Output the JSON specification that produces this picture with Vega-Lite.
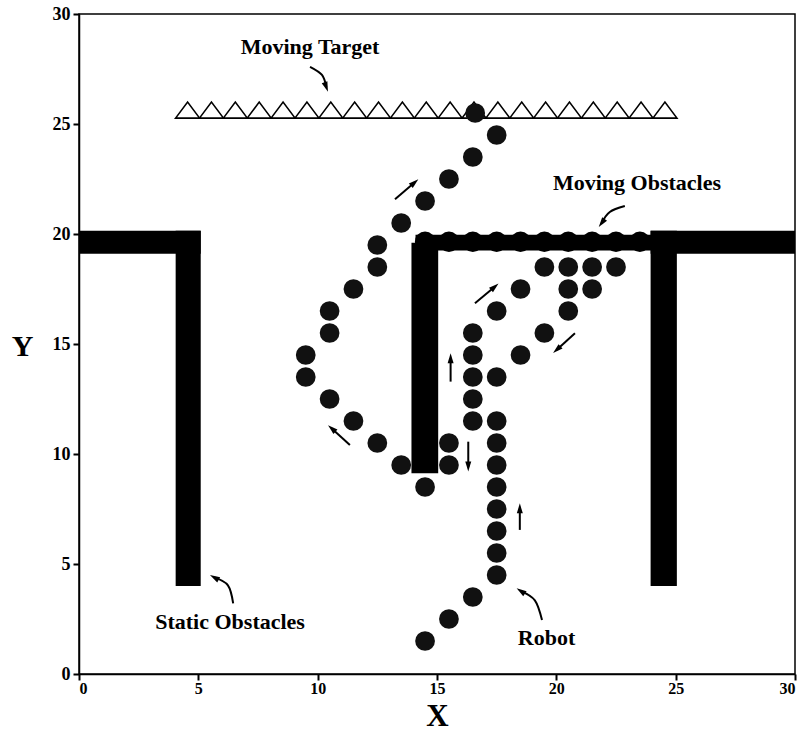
{
  "$schema": "https://vega.github.io/schema/vega-lite/v6.json",
  "width": 716,
  "height": 660,
  "autosize": {"type": "none"},
  "padding": {"left": 79, "top": 14, "right": 13, "bottom": 72},
  "background": "white",
  "config": {
    "view": {"stroke": "black", "strokeWidth": 1.5}
  },
  "datasets": {
    "walls": [
      {"part": "static", "x": 0, "x2": 5.1, "y": 19.1, "y2": 20.15},
      {"part": "static", "x": 4.05, "x2": 5.1, "y": 4.0, "y2": 20.15},
      {"part": "static", "x": 23.95, "x2": 30, "y": 19.1, "y2": 20.15},
      {"part": "static", "x": 23.95, "x2": 25.05, "y": 4.0, "y2": 20.15},
      {"part": "static", "x": 13.93, "x2": 15.05, "y": 9.12, "y2": 19.6},
      {"part": "moving", "x": 14.1, "x2": 24.0, "y": 19.25, "y2": 19.97}
    ],
    "movers": [
      {"x": 14.5, "y": 19.65}, {"x": 15.5, "y": 19.65}, {"x": 16.5, "y": 19.65},
      {"x": 17.5, "y": 19.65}, {"x": 18.5, "y": 19.65}, {"x": 19.5, "y": 19.65},
      {"x": 20.5, "y": 19.65}, {"x": 21.5, "y": 19.65}, {"x": 22.5, "y": 19.65},
      {"x": 23.5, "y": 19.65}
    ],
    "target": [
      {"x": 4.55, "y": 25.63}, {"x": 5.55, "y": 25.63}, {"x": 6.55, "y": 25.63},
      {"x": 7.55, "y": 25.63}, {"x": 8.55, "y": 25.63}, {"x": 9.55, "y": 25.63},
      {"x": 10.55, "y": 25.63}, {"x": 11.55, "y": 25.63}, {"x": 12.55, "y": 25.63},
      {"x": 13.55, "y": 25.63}, {"x": 14.55, "y": 25.63}, {"x": 15.55, "y": 25.63},
      {"x": 16.55, "y": 25.63}, {"x": 17.55, "y": 25.63}, {"x": 18.55, "y": 25.63},
      {"x": 19.55, "y": 25.63}, {"x": 20.55, "y": 25.63}, {"x": 21.55, "y": 25.63},
      {"x": 22.55, "y": 25.63}, {"x": 23.55, "y": 25.63}, {"x": 24.55, "y": 25.63}
    ],
    "robot": [
      {"x": 14.5, "y": 1.5}, {"x": 15.5, "y": 2.5}, {"x": 16.5, "y": 3.5},
      {"x": 17.5, "y": 4.5}, {"x": 17.5, "y": 5.5}, {"x": 17.5, "y": 6.5},
      {"x": 17.5, "y": 7.5}, {"x": 17.5, "y": 8.5}, {"x": 17.5, "y": 9.5},
      {"x": 17.5, "y": 10.5}, {"x": 17.5, "y": 11.5}, {"x": 16.5, "y": 11.5},
      {"x": 16.5, "y": 12.5}, {"x": 16.5, "y": 13.5}, {"x": 17.5, "y": 13.5},
      {"x": 16.5, "y": 14.5}, {"x": 16.5, "y": 15.5}, {"x": 17.5, "y": 16.5},
      {"x": 18.5, "y": 17.5}, {"x": 19.5, "y": 18.5}, {"x": 20.5, "y": 18.5},
      {"x": 21.5, "y": 18.5}, {"x": 22.5, "y": 18.5}, {"x": 20.5, "y": 17.5},
      {"x": 21.5, "y": 17.5}, {"x": 20.5, "y": 16.5}, {"x": 19.5, "y": 15.5},
      {"x": 18.5, "y": 14.5}, {"x": 15.5, "y": 10.5}, {"x": 15.5, "y": 9.5},
      {"x": 14.5, "y": 8.5}, {"x": 13.5, "y": 9.5}, {"x": 12.5, "y": 10.5},
      {"x": 11.5, "y": 11.5}, {"x": 10.5, "y": 12.5}, {"x": 9.5, "y": 13.5},
      {"x": 9.5, "y": 14.5}, {"x": 10.5, "y": 15.5}, {"x": 10.5, "y": 16.5},
      {"x": 11.5, "y": 17.5}, {"x": 12.5, "y": 18.5}, {"x": 12.5, "y": 19.5},
      {"x": 13.5, "y": 20.5}, {"x": 14.5, "y": 21.5}, {"x": 15.5, "y": 22.5},
      {"x": 16.5, "y": 23.5}, {"x": 17.5, "y": 24.5}, {"x": 16.6, "y": 25.5}
    ],
    "arrows": [
      {"id": "a2", "seq": 0, "x": 13.24, "y": 21.58}, {"id": "a2", "seq": 1, "x": 14.06, "y": 22.34},
      {"id": "a4", "seq": 0, "x": 16.59, "y": 16.85}, {"id": "a4", "seq": 1, "x": 17.42, "y": 17.6},
      {"id": "a5", "seq": 0, "x": 20.78, "y": 15.49}, {"id": "a5", "seq": 1, "x": 20.02, "y": 14.74},
      {"id": "a6", "seq": 0, "x": 15.57, "y": 13.29}, {"id": "a6", "seq": 1, "x": 15.57, "y": 14.35},
      {"id": "a7", "seq": 0, "x": 11.35, "y": 10.41}, {"id": "a7", "seq": 1, "x": 10.59, "y": 11.16},
      {"id": "a8", "seq": 0, "x": 16.31, "y": 10.56}, {"id": "a8", "seq": 1, "x": 16.31, "y": 9.43},
      {"id": "a9", "seq": 0, "x": 18.47, "y": 6.55}, {"id": "a9", "seq": 1, "x": 18.47, "y": 7.53},
      {"id": "c1", "seq": 0, "x": 9.68, "y": 27.6}, {"id": "c1", "seq": 1, "x": 10.18, "y": 27.23}, {"id": "c1", "seq": 2, "x": 10.36, "y": 26.68},
      {"id": "c3", "seq": 0, "x": 22.87, "y": 21.27}, {"id": "c3", "seq": 1, "x": 22.24, "y": 21.0}, {"id": "c3", "seq": 2, "x": 21.9, "y": 20.5},
      {"id": "c10", "seq": 0, "x": 19.4, "y": 2.45}, {"id": "c10", "seq": 1, "x": 19.1, "y": 3.35}, {"id": "c10", "seq": 2, "x": 18.51, "y": 3.77},
      {"id": "c11", "seq": 0, "x": 6.46, "y": 3.21}, {"id": "c11", "seq": 1, "x": 6.24, "y": 4.03}, {"id": "c11", "seq": 2, "x": 5.67, "y": 4.39}
    ],
    "heads": [
      {"x": 14.06, "y": 22.34, "heading": 49},
      {"x": 17.42, "y": 17.6, "heading": 49},
      {"x": 20.02, "y": 14.74, "heading": 228},
      {"x": 15.57, "y": 14.35, "heading": 0},
      {"x": 10.59, "y": 11.16, "heading": 312},
      {"x": 16.31, "y": 9.43, "heading": 180},
      {"x": 18.47, "y": 7.53, "heading": 0},
      {"x": 10.36, "y": 26.68, "heading": 160},
      {"x": 21.9, "y": 20.5, "heading": 216},
      {"x": 18.51, "y": 3.77, "heading": 304},
      {"x": 5.67, "y": 4.39, "heading": 299}
    ],
    "labels": [
      {"text": "Moving Target", "x": 9.68, "y": 28.51},
      {"text": "Moving Obstacles", "x": 23.38, "y": 22.3},
      {"text": "Static Obstacles", "x": 6.33, "y": 2.38},
      {"text": "Robot", "x": 19.59, "y": 1.62}
    ]
  },
  "encoding": {
    "x": {"field": "x", "type": "quantitative", "scale": {"domain": [0, 30], "nice": false},
      "axis": {"values": [0, 5, 10, 15, 20, 25, 30], "grid": false,
        "domainColor": "black", "domainWidth": 1.5,
        "ticks": true, "tickColor": "black", "tickWidth": 2, "tickSize": 6,
        "labelFont": "Liberation Serif", "labelFontSize": 16, "labelFontWeight": "bold",
        "labelColor": "black", "labelPadding": 0, "labelBaseline": "top",
        "title": "X", "titleFont": "Liberation Serif", "titleFontWeight": "bold",
        "titleColor": "black", "titleFontSize": 31,
        "titleBaseline": "alphabetic", "titleY": 51}},
    "y": {"field": "y", "type": "quantitative", "scale": {"domain": [0, 30], "nice": false},
      "axis": {"values": [0, 5, 10, 15, 20, 25, 30], "grid": false,
        "domainColor": "black", "domainWidth": 1.5,
        "ticks": true, "tickColor": "black", "tickWidth": 2, "tickSize": 6,
        "labelFont": "Liberation Serif", "labelFontSize": 18, "labelFontWeight": "bold",
        "labelColor": "black", "labelPadding": 3,
        "title": "Y", "titleFont": "Liberation Serif", "titleFontWeight": "bold",
        "titleColor": "black", "titleFontSize": 30,
        "titleAngle": 0, "titleAlign": "center", "titleBaseline": "alphabetic",
        "titleX": -57, "titleY": 341}}
  },
  "layer": [
    {
      "data": {"name": "walls"},
      "mark": {"type": "rect", "color": "black"},
      "encoding": {
        "x2": {"field": "x2"},
        "y2": {"field": "y2"}
      }
    },
    {
      "data": {"name": "movers"},
      "mark": {"type": "circle", "color": "black", "opacity": 1, "size": 415}
    },
    {
      "data": {"name": "target"},
      "mark": {"type": "point", "shape": "M-1,0.667L0,-0.667L1,0.667Z", "filled": false,
        "stroke": "black", "strokeWidth": 1.6, "opacity": 1, "size": 576}
    },
    {
      "data": {"name": "robot"},
      "mark": {"type": "circle", "color": "#111111", "opacity": 1, "size": 390}
    },
    {
      "data": {"name": "arrows"},
      "mark": {"type": "line", "color": "black", "strokeWidth": 2, "interpolate": "cardinal"},
      "encoding": {
        "detail": {"field": "id"},
        "order": {"field": "seq", "type": "quantitative"}
      }
    },
    {
      "data": {"name": "heads"},
      "mark": {"type": "point", "shape": "M0,-1L0.6,1L-0.6,1Z", "filled": true,
        "color": "black", "opacity": 1, "size": 100},
      "encoding": {
        "angle": {"field": "heading", "type": "quantitative", "scale": null}
      }
    },
    {
      "data": {"name": "labels"},
      "mark": {"type": "text", "font": "Liberation Serif", "fontWeight": "bold", "fontSize": 22,
        "color": "black", "align": "center", "baseline": "middle"},
      "encoding": {
        "text": {"field": "text"}
      }
    }
  ]
}
